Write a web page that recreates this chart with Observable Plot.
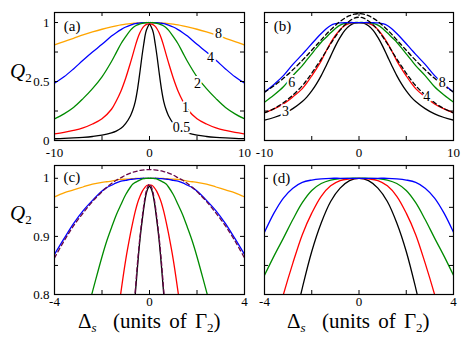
<!DOCTYPE html>
<html><head><meta charset="utf-8">
<script src="https://cdn.jsdelivr.net/npm/d3@7"></script>
<script src="https://cdn.jsdelivr.net/npm/@observablehq/plot@0.6"></script>
<style>
body{margin:0;background:#fff;}
#wrap{position:relative;width:471px;height:338px;overflow:hidden;background:#fff;}
#wrap svg, #wrap svg text{font-family:"Liberation Serif","Times New Roman",serif !important;}
.p{position:absolute;}
.lbl{position:absolute;font-family:"Liberation Serif","Times New Roman",serif;color:#000;white-space:nowrap;line-height:1;}
.sub{font-size:13px;position:relative;top:4px;font-style:normal;}
</style></head><body>
<div id="wrap">
  <div class="lbl" style="left:10px;top:61px;font-size:21px"><i>Q</i><span class="sub">2</span></div>
  <div class="lbl" style="left:10px;top:203px;font-size:21px"><i>Q</i><span class="sub">2</span></div>
  <div class="lbl" style="left:78px;top:311px;font-size:21px;word-spacing:3px">Δ<i class="sub" style="font-style:italic">s</i>&nbsp; (units of Γ<span class="sub">2</span>)</div>
  <div class="lbl" style="left:287px;top:311px;font-size:21px;word-spacing:3px">Δ<i class="sub" style="font-style:italic">s</i>&nbsp; (units of Γ<span class="sub">2</span>)</div>
</div>
<script>
// ---------- Panel (a): Q2 vs detuning, |Δs| values (curves are symmetric) ----------
const xA = [0, 0.2, 0.4, 0.6, 0.8, 1, 1.25, 1.5, 1.75, 2, 2.5, 3, 3.5, 4, 5, 6, 7, 8, 9, 10];
const aOrange = [1, 1, 1, 0.9995, 0.999, 0.998, 0.997, 0.995, 0.993, 0.991, 0.986, 0.98, 0.972, 0.963, 0.943, 0.92, 0.895, 0.866, 0.838, 0.81];
const aBlue   = [1, 1, 0.9995, 0.999, 0.998, 0.996, 0.994, 0.99, 0.985, 0.978, 0.962, 0.94, 0.914, 0.885, 0.815, 0.75, 0.68, 0.607, 0.54, 0.486];
const aGreen  = [1, 0.9995, 0.998, 0.996, 0.993, 0.988, 0.98, 0.97, 0.955, 0.935, 0.88, 0.82, 0.745, 0.67, 0.54, 0.44, 0.355, 0.28, 0.226, 0.184];
const aRed    = [0.988, 0.986, 0.98, 0.967, 0.945, 0.915, 0.865, 0.80, 0.73, 0.66, 0.53, 0.42, 0.335, 0.265, 0.185, 0.14, 0.107, 0.085, 0.068, 0.056];
const aBlack  = [0.986, 0.96, 0.915, 0.82, 0.71, 0.585, 0.44, 0.33, 0.26, 0.21, 0.145, 0.103, 0.08, 0.065, 0.045, 0.034, 0.027, 0.022, 0.018, 0.015];
const aLabelText = ["8", "4", "2", "1", "0.5"];
const aLabelX = [7.26, 6.42, 5.05, 3.79, 3.37];
const aLabelY = [0.907, 0.703, 0.483, 0.28, 0.11];

// ---------- Panel (b) ----------
const xB = [0, 0.5, 1, 1.5, 2, 2.5, 3, 3.5, 4, 4.5, 5, 5.5, 6, 7, 8, 9, 10];
const bBlue  = [1, 1, 1, 0.9995, 0.997, 0.99, 0.975, 0.945, 0.907, 0.865, 0.82, 0.775, 0.73, 0.645, 0.55, 0.475, 0.41];
const bGreen = [1, 1, 0.9985, 0.993, 0.978, 0.95, 0.913, 0.873, 0.833, 0.785, 0.735, 0.685, 0.635, 0.55, 0.455, 0.385, 0.325];
const bRed   = [1, 0.999, 0.992, 0.975, 0.94, 0.89, 0.828, 0.755, 0.675, 0.61, 0.548, 0.49, 0.44, 0.37, 0.31, 0.268, 0.236];
const bBlack = [1, 0.994, 0.972, 0.934, 0.874, 0.80, 0.715, 0.63, 0.55, 0.48, 0.42, 0.37, 0.33, 0.27, 0.225, 0.195, 0.173];
const bDash8 = [1.075, 1.071, 1.058, 1.037, 1.009, 0.976, 0.938, 0.897, 0.853, 0.809, 0.765, 0.721, 0.679, 0.599, 0.527, 0.464, 0.41];
const bDash4 = [1.045, 1.037, 1.013, 0.98, 0.935, 0.88, 0.82, 0.755, 0.69, 0.63, 0.57, 0.515, 0.465, 0.385, 0.32, 0.27, 0.234];
const bLabelText = ["6", "3", "8", "4"];
const bLabelX = [-7.12, -7.78, 8.8, 7.17];
const bLabelY = [0.49, 0.247, 0.494, 0.375];

// ---------- Panel (c): close-up of the tops ----------
const xC = [0, 0.1, 0.2, 0.3, 0.4, 0.5, 0.6, 0.7, 0.8, 1.0, 1.2, 1.4, 1.6, 1.8, 2.0, 2.4, 2.8, 3.2, 3.6, 4.0];
const cOrange = [1, 1, 1, 1, 1, 0.9998, 0.9996, 0.9994, 0.999, 0.9985, 0.998, 0.997, 0.995, 0.994, 0.993, 0.99, 0.985, 0.98, 0.975, 0.968];
const cBlue   = [1, 1, 1, 1, 0.9995, 0.9993, 0.999, 0.9985, 0.998, 0.9965, 0.995, 0.992, 0.988, 0.984, 0.978, 0.962, 0.944, 0.922, 0.896, 0.869];
const cGreen  = [1, 1, 0.9995, 0.999, 0.997, 0.995, 0.993, 0.99, 0.985, 0.972, 0.955, 0.937, 0.915, 0.892, 0.865, 0.805, 0.745, null, null, null];
const cRed    = [0.988, 0.988, 0.984, 0.978, 0.969, 0.958, 0.943, 0.925, 0.905, 0.86, 0.805, 0.745, 0.68, null, null, null, null, null, null, null];
const cBlack  = [0.986, 0.979, 0.96, 0.93, 0.895, 0.85, 0.80, 0.745, 0.69, null, null, null, null, null, null, null, null, null, null, null];
const cDashNarrow = [0.99, 0.983, 0.964, 0.935, 0.9, 0.857, 0.806, 0.75, 0.695, null, null, null, null, null, null, null, null, null, null, null];
const cDashWide = [1.015, 1.0149, 1.0146, 1.0141, 1.0135, 1.0126, 1.0115, 1.0103, 1.009, 1.0055, 1.001, 0.9965, 0.991, 0.9845, 0.977, 0.96, 0.94, 0.918, 0.892, 0.863];

// ---------- Panel (d): close-up of (b) ----------
const xD = [0, 0.4, 0.8, 1.2, 1.6, 2.0, 2.4, 2.8, 3.2, 3.6, 4.0];
const dBlue  = [1, 1, 1, 1, 0.999, 0.997, 0.993, 0.983, 0.966, 0.94, 0.907];
const dGreen = [1, 1, 0.9995, 0.997, 0.991, 0.979, 0.958, 0.929, 0.897, 0.866, 0.833];
const dRed   = [1, 0.999, 0.996, 0.987, 0.969, 0.94, 0.903, 0.854, 0.80, 0.74, null];
const dBlack = [1, 0.996, 0.983, 0.96, 0.923, 0.874, 0.811, 0.74, null, null, null];

// ---------- tick values ----------
const ticksX10 = [-10, -5, 0, 5, 10];
const labelsX10 = [-10, 0, 10];
const ticksX4 = [-4, -2, 0, 2, 4];
const labelsX4 = [-4, 0, 4];
const ticksY1 = [0, 0.25, 0.5, 0.75, 1];
const labelsY1 = [0, 0.5, 1];
const ticksY2 = [0.8, 0.85, 0.9, 0.95, 1];
const labelsY2 = [0.8, 0.9, 1];

const ORANGE = "#ffa500", BLUE = "#0000ff", GREEN = "#008b00", RED = "#ff0000", BLACK = "#000000", MAROON = "#670748";
const FONT = "Liberation Serif";

function mirror(xs, ys) {
  const rows = [];
  for (let i = xs.length - 1; i > 0; i--) rows.push({x: -xs[i], y: ys[i]});
  for (let i = 0; i < xs.length; i++) rows.push({x: xs[i], y: ys[i]});
  return rows;
}
function zipLabels(t, xs, ys) { return t.map((s, i) => ({t: s, x: xs[i], y: ys[i]})); }

function panel(cfg) {
  const {left, top, width, height, mL, mR, mT, mB, xDomain, yDomain, xTicks, xLabels, yTicks, yLabels,
         series, labels, letter, padX} = cfg;
  const W = width - mL - mR, H = height - mT - mB, T = 4;
  const marks = [];
  for (const s of series) {
    marks.push(Plot.line(mirror(s.xs, s.ys), {x: "x", y: "y", stroke: s.color, strokeWidth: 1.3,
      strokeDasharray: s.dash ? "4,3" : null, curve: "catmull-rom", clip: true}));
  }
  if (labels) marks.push(Plot.text(labels, {x: "x", y: "y", text: "t", fontSize: 14, fontFamily: FONT,
      fill: "black", stroke: "white", strokeWidth: 4}));
  marks.push(Plot.text([letter], {x: d => d.x, y: d => d.y, text: d => d.t, textAnchor: "start",
      fontSize: 15, fontFamily: FONT, fill: "black"}));
  marks.push(
    Plot.tickX(xTicks, {x: d => d, insetTop: H - T, stroke: "black"}),
    Plot.tickX(xTicks, {x: d => d, insetBottom: H - T, stroke: "black"}),
    Plot.tickY(yTicks, {y: d => d, insetRight: W - T, stroke: "black"}),
    Plot.tickY(yTicks, {y: d => d, insetLeft: W - T, stroke: "black"}),
    Plot.frame({stroke: "black", strokeWidth: 1.2}),
    Plot.axisX(xLabels, {tickSize: 0, tickPadding: padX, tickFormat: d => String(d), fontSize: 13, fontFamily: FONT, label: null})
  );
  if (yLabels) marks.push(Plot.axisY(yLabels, {tickSize: 0, tickPadding: 5, tickFormat: d => String(d), fontSize: 13, fontFamily: FONT, label: null}));
  const chart = Plot.plot({
    width, height, marginLeft: mL, marginRight: mR, marginTop: mT, marginBottom: mB,
    x: {domain: xDomain, label: null},
    y: {domain: yDomain, label: null, axis: yLabels ? undefined : null},
    style: {background: "transparent", overflow: "visible", color: "black", fontFamily: FONT},
    marks
  });
  chart.classList.add("p");
  chart.style.left = left + "px";
  chart.style.top = top + "px";
  chart.style.maxWidth = "none";
  document.getElementById("wrap").appendChild(chart);
}

panel({left: 0, top: 0, width: 250, height: 160, mL: 54, mR: 6, mT: 12, mB: 20,
  xDomain: [-10, 10], yDomain: [0, 1.085], xTicks: ticksX10, xLabels: labelsX10, yTicks: ticksY1, yLabels: labelsY1, padX: 7,
  series: [
    {xs: xA, ys: aOrange, color: ORANGE}, {xs: xA, ys: aBlue, color: BLUE}, {xs: xA, ys: aGreen, color: GREEN},
    {xs: xA, ys: aRed, color: RED}, {xs: xA, ys: aBlack, color: BLACK}],
  labels: zipLabels(aLabelText, aLabelX, aLabelY),
  letter: {t: "(a)", x: -9.02, y: 0.968}});

panel({left: 250, top: 0, width: 221, height: 160, mL: 14, mR: 18, mT: 12, mB: 20,
  xDomain: [-10, 10], yDomain: [0, 1.085], xTicks: ticksX10, xLabels: labelsX10, yTicks: ticksY1, yLabels: null, padX: 7,
  series: [
    {xs: xB, ys: bBlack, color: BLACK}, {xs: xB, ys: bRed, color: RED}, {xs: xB, ys: bGreen, color: GREEN},
    {xs: xB, ys: bBlue, color: BLUE}, {xs: xB, ys: bDash8, color: BLACK, dash: true}, {xs: xB, ys: bDash4, color: BLACK, dash: true}],
  labels: zipLabels(bLabelText, bLabelX, bLabelY),
  letter: {t: "(b)", x: -9.02, y: 0.968}});

panel({left: 0, top: 150, width: 250, height: 168, mL: 54, mR: 6, mT: 15, mB: 24,
  xDomain: [-4, 4], yDomain: [0.8, 1.022], xTicks: ticksX4, xLabels: labelsX4, yTicks: ticksY2, yLabels: labelsY2, padX: 2,
  series: [
    {xs: xC, ys: cOrange, color: ORANGE}, {xs: xC, ys: cBlue, color: BLUE}, {xs: xC, ys: cGreen, color: GREEN},
    {xs: xC, ys: cRed, color: RED}, {xs: xC, ys: cBlack, color: BLACK},
    {xs: xC, ys: cDashWide, color: MAROON, dash: true}, {xs: xC, ys: cDashNarrow, color: MAROON, dash: true}],
  labels: null,
  letter: {t: "(c)", x: -3.62, y: 1.0017}});

panel({left: 250, top: 150, width: 221, height: 168, mL: 14, mR: 18, mT: 15, mB: 24,
  xDomain: [-4, 4], yDomain: [0.8, 1.022], xTicks: ticksX4, xLabels: labelsX4, yTicks: ticksY2, yLabels: null, padX: 2,
  series: [
    {xs: xD, ys: dBlack, color: BLACK}, {xs: xD, ys: dRed, color: RED}, {xs: xD, ys: dGreen, color: GREEN},
    {xs: xD, ys: dBlue, color: BLUE}],
  labels: null,
  letter: {t: "(d)", x: -3.65, y: 1.001}});
</script>
</body></html>
